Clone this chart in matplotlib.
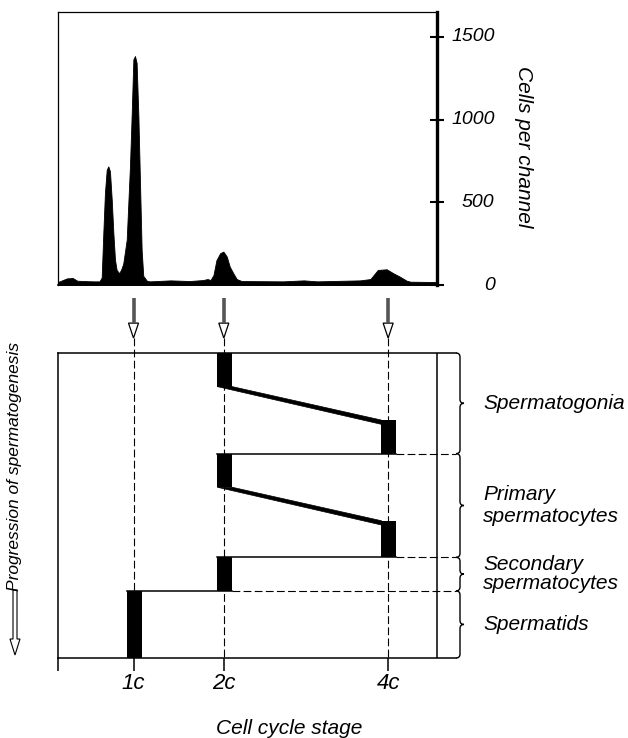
import matplotlib
matplotlib.use("Agg")
import matplotlib.pyplot as plt
from matplotlib.path import Path
from matplotlib.patches import PathPatch, Polygon, FancyArrow
from matplotlib.transforms import blended_transform_factory

plt.rcParams["font.family"] = ["Liberation Sans", "DejaVu Sans"]
plt.rcParams["font.style"] = "italic"

# flow cytometry histogram: DNA content channel vs cells per channel
channels = [0, 6, 10, 13, 17, 24, 28, 29.5, 30.6, 31.7, 32.9, 34, 35.1, 36.3, 37.4,
            38.5, 39.6, 41.4, 43, 44.1, 46.4, 48.6, 49.8, 50.9, 52, 53.1, 54.3, 55.4,
            56.5, 57.6, 60, 62, 76, 89, 98, 101, 103, 105, 107, 109.5, 111.7, 114, 116,
            118.4, 120.7, 124, 152, 166, 175, 204, 211, 216, 222, 226.5, 231, 235.5,
            238, 256]
counts = [18, 40, 42, 26, 24, 22, 22, 45, 313, 556, 697, 717, 687, 515, 313,
          152, 91, 71, 101, 131, 273, 717, 1040, 1364, 1384, 1343, 1020, 616,
          212, 55, 26, 22, 28, 24, 30, 36, 30, 60, 150, 192, 202, 172, 111,
          71, 36, 24, 22, 28, 22, 28, 36, 91, 95, 71, 50, 26, 20, 18]
count_ticks = [0, 500, 1000, 1500]

# DNA content classes (channel position)
ploidy_labels = ["1c", "2c", "4c"]
ploidy_channels = [51, 112, 223]

# progression of spermatogenesis (0 = start, 100 = end)
stage_names = ["Spermatogonia", "Primary\nspermatocytes",
               "Secondary\nspermatocytes", "Spermatids"]
stage_bounds = [0, 33, 67, 78, 100]

# G1 / G2 blocks: ploidy index, start, end
block_ploidy = [1, 2, 1, 2, 1, 0]
block_start = [0, 22, 33, 55, 67, 78]
block_end = [11, 33, 44, 67, 78, 100]

# S phases 2c -> 4c
s_start = [11, 44]
s_end = [22, 55]

W, H = 628, 738
fig = plt.figure(figsize=(W / 100, H / 100), dpi=100)

# ---- histogram ----
ax1 = fig.add_axes([58 / W, 1 - 285 / H, 379 / W, 273 / H])
ax1.fill_between(channels, counts, 0, color="black", lw=0.6, edgecolor="black")
ax1.set_xlim(0, 256)
ax1.set_ylim(0, 1650)
ax1.set_xticks([])
ax1.yaxis.tick_right()
ax1.set_yticks(count_ticks)
ax1.set_yticklabels([])
ax1.tick_params(axis="y", direction="inout", length=10, width=1.5)
for side, lw in [("left", 0.9), ("top", 0.9), ("bottom", 1.2), ("right", 2.4)]:
    ax1.spines[side].set_linewidth(lw)
tr = blended_transform_factory(ax1.transAxes, ax1.transData)
for v in count_ticks:
    ax1.text(1.152, v, str(v), transform=tr, ha="right", va="center", fontsize=14)
fig.text(524 / W, 1 - 147 / H, "Cells per channel", rotation=270,
         ha="center", va="center", fontsize=15)

# ---- scheme ----
kx = 256 / 379   # channels per pixel
ky = 100 / 305   # progression units per pixel
x_end = (456 - 58) * kx
ax2 = fig.add_axes([58 / W, 1 - 658 / H, 398 / W, 305 / H])
ax2.set_xlim(0, x_end)
ax2.set_ylim(100, 0)
ax2.spines["right"].set_visible(False)
for side in ["left", "top", "bottom"]:
    ax2.spines[side].set_linewidth(1.1)
ax2.set_yticks([])
ax2.set_xticks([0] + ploidy_channels)
ax2.set_xticklabels([""] + ploidy_labels, fontsize=16)
ax2.tick_params(axis="x", direction="out", length=9, width=1.1, pad=2)

bl = 4.5   # block half widths (channels)
br = 5.5
dash = (0, (7, 3))

# vertical guide lines and arrows from histogram
for c in ploidy_channels:
    ax2.plot([c, c], [-4.9, 100], color="black", lw=0.8, ls=dash, clip_on=False)
    ax2.plot([c, c], [-18, -9.8], color="#555555", lw=2.6, clip_on=False,
             solid_capstyle="butt")
    ax2.add_patch(Polygon([(c - 5 * kx, -9.8), (c + 5 * kx, -9.8), (c, -4.9)],
                          closed=True, fc="white", ec="black", lw=0.9, clip_on=False))

# right frame line
ax2.plot([256, 256], [0, 100], color="black", lw=1.1)

# G1/G2 blocks
for p, s, e in zip(block_ploidy, block_start, block_end):
    c = ploidy_channels[p]
    ax2.fill_betweenx([s, e], c - bl, c + br, color="black", lw=0)

# S phase bands
c2, c4 = ploidy_channels[1], ploidy_channels[2]
for s, e in zip(s_start, s_end):
    ax2.add_patch(Polygon([(c2 - bl, s), (c2 + br, s), (c4 - bl, e),
                           (c4 - bl, e + 1.4)], closed=True, fc="black", ec="black", lw=0.5))

# divisions between stages
for b in stage_bounds[1:-1]:
    prev = [i for i in range(len(block_end)) if block_end[i] == b][0]
    nxt = [i for i in range(len(block_start)) if block_start[i] == b][0]
    lefts = [ploidy_channels[block_ploidy[i]] - bl for i in (prev, nxt)]
    rights = [ploidy_channels[block_ploidy[i]] + br for i in (prev, nxt)]
    ax2.plot([min(lefts), max(rights)], [b, b], color="black", lw=1.1)
    ax2.plot([max(rights), x_end], [b, b], color="black", lw=0.8, ls=dash, clip_on=False)


def brace(ax, y0, y1, x0):
    r = 4 * kx
    ry = 4 * ky
    ym = (y0 + y1) / 2
    verts = [(x0, y0), (x0 + r, y0), (x0 + r, y0 + ry),
             (x0 + r, ym - ry),
             (x0 + r, ym), (x0 + 2 * r, ym),
             (x0 + r, ym), (x0 + r, ym + ry),
             (x0 + r, y1 - ry),
             (x0 + r, y1), (x0, y1)]
    codes = [Path.MOVETO, Path.CURVE3, Path.CURVE3, Path.LINETO,
             Path.CURVE3, Path.CURVE3, Path.CURVE3, Path.CURVE3,
             Path.LINETO, Path.CURVE3, Path.CURVE3]
    ax.add_patch(PathPatch(Path(verts, codes), fc="none", ec="black", lw=1.0,
                           clip_on=False))


for i, name in enumerate(stage_names):
    y0, y1 = stage_bounds[i], stage_bounds[i + 1]
    brace(ax2, y0, y1, x_end)
    ls = 0.95 if i == 2 else 1.15
    ax2.text(x_end + 27 * kx, (y0 + y1) / 2, name, ha="left", va="center",
             fontsize=15, linespacing=ls, clip_on=False)

fig.text(15 / W, 1 - 466 / H, "Progression of spermatogenesis", rotation=90,
         ha="center", va="center", fontsize=12.5)
fig.patches.append(FancyArrow(15 / W, 1 - 590 / H, 0, -65 / H, width=4 / W,
                              head_width=10 / W, head_length=16 / H,
                              length_includes_head=True, fc="white", ec="black",
                              lw=0.8, transform=fig.transFigure, figure=fig))
fig.text(289 / W, 1 - 728 / H, "Cell cycle stage", ha="center", va="center",
         fontsize=15)

fig.savefig("out.png", dpi=100)
